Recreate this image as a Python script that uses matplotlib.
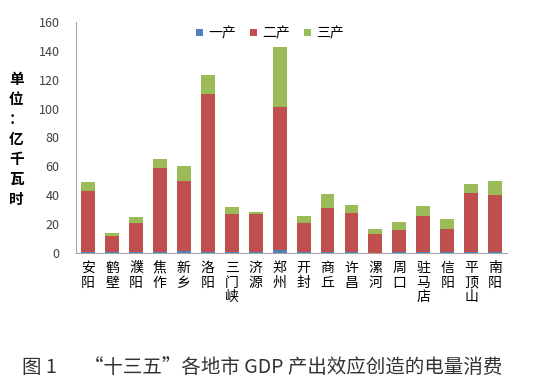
import matplotlib.pyplot as plt
import numpy as np

plt.rcParams['font.family'] = ['Noto Sans CJK SC', 'DejaVu Sans']

cities = ["安阳", "鹤壁", "濮阳", "焦作", "新乡", "洛阳", "三门峡", "济源", "郑州",
          "开封", "商丘", "许昌", "漯河", "周口", "驻马店", "信阳", "平顶山", "南阳"]
yi = [0.5, 0.3, 0.8, 0.5, 1.5, 0.8, 0.3, 0.3, 2.0, 0.3, 0.4, 0.4, 0.2, 0.3, 0.5, 0.3, 0.5, 0.8]
er = [42.5, 11.3, 19.9, 58.5, 48.5, 109.2, 26.9, 26.7, 98.8, 20.7, 30.6, 27.3, 12.8, 15.3, 25.1, 16.2, 40.9, 39.4]
san = [6.0, 2.4, 4.3, 5.7, 10.0, 13.0, 4.8, 1.6, 41.7, 4.6, 9.5, 5.8, 3.5, 6.0, 6.7, 7.0, 6.3, 9.6]
legend_labels = ["一产", "二产", "三产"]
colors = ["#4F81BD", "#C0504D", "#9BBB59"]

fig = plt.figure(figsize=(5.4, 3.86), dpi=100)
ax = fig.add_axes([0.141, 0.345, 0.798, 0.598])

x = np.arange(len(cities))
w = 0.58
ax.bar(x, yi, w, color=colors[0], label=legend_labels[0])
ax.bar(x, er, w, bottom=yi, color=colors[1], label=legend_labels[1])
ax.bar(x, san, w, bottom=np.array(yi) + np.array(er), color=colors[2], label=legend_labels[2])

ax.set_ylim(0, 160)
ax.set_xlim(-0.5, len(cities) - 0.5)
ax.set_yticks(range(0, 161, 20))
ax.tick_params(axis='y', length=0, labelsize=9, labelcolor='#404040', pad=12)
ax.tick_params(axis='x', length=0, pad=6)
ax.set_xticks(x)
ax.set_xticklabels(['\n'.join(c) for c in cities], fontsize=10, linespacing=1.05, va='top')
for s in ['top', 'right']:
    ax.spines[s].set_visible(False)
for s in ['left', 'bottom']:
    ax.spines[s].set_color('#A6A6A6')

ax.legend(loc='upper center', bbox_to_anchor=(0.45, 1.035), ncol=3, frameon=False,
          fontsize=10, handlelength=0.5, handleheight=0.5, columnspacing=1.0, handletextpad=0.4)

fig.text(0.03, 0.64, '\n'.join("单位：亿千瓦时"), fontsize=10.5, fontweight='bold',
         ha='center', va='center', linespacing=1.3)

fig.text(0.04, 0.048, "图 1", fontsize=14, color='#333333', va='center', fontweight='light')
fig.text(0.155, 0.048, "“十三五”各地市 GDP 产出效应创造的电量消费", fontsize=14,
         color='#333333', va='center', fontweight='light')

fig.savefig("out.png", dpi=100)
